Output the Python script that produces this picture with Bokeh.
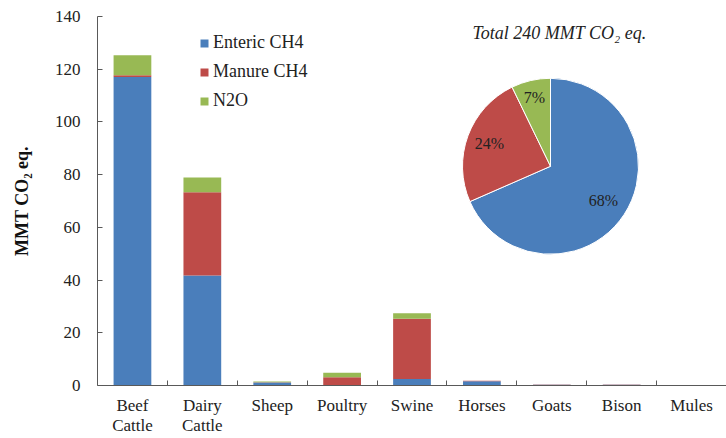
import numpy as np
from bokeh.plotting import figure
from bokeh.models import (Range1d, FixedTicker, Legend, LegendItem, ColumnDataSource)
from bokeh.core.properties import value
from bokeh.embed import file_html
from bokeh.resources import INLINE

# ---------------- data ----------------
categories = ["Beef\nCattle", "Dairy\nCattle", "Sheep", "Poultry", "Swine",
              "Horses", "Goats", "Bison", "Mules"]
enteric_ch4 = [117.0, 41.7, 1.1, 0.0, 2.5, 1.6, 0.3, 0.3, 0.1]
manure_ch4 = [0.7, 31.6, 0.1, 3.1, 22.8, 0.2, 0.05, 0.05, 0.05]
n2o = [7.6, 5.6, 0.3, 1.7, 2.1, 0.0, 0.0, 0.0, 0.0]
series_names = ["Enteric CH4", "Manure CH4", "N2O"]
colors = ["#4A7EBB", "#BE4B48", "#98B954"]
pie_title = "Total 240 MMT CO\u2082 eq."
y_ticks = [0, 20, 40, 60, 80, 100, 120, 140]

# ---------------- layout constants ----------------
FONT = "Liberation Serif"
W, H = 726, 438
BL, BR, BT, BB = 97, 0, 16, 50
frame_w = W - BL - BR
frame_h = H - BT - BB
n = len(categories)
px_x = frame_w / n          # px per x unit
px_y = frame_h / 140.0      # px per y unit

p = figure(width=W, height=H, output_backend="svg", toolbar_location=None,
           x_range=Range1d(0, n), y_range=Range1d(0, 140),
           min_border_left=BL, min_border_right=BR, min_border_top=BT,
           min_border_bottom=BB)
p.outline_line_color = None
p.xgrid.visible = False
p.ygrid.visible = False

xs = np.arange(n) + 0.5
src = ColumnDataSource(dict(x=xs, **{series_names[0]: enteric_ch4,
                                     series_names[1]: manure_ch4,
                                     series_names[2]: n2o}))
rs = p.vbar_stack(series_names, x="x", width=0.54, color=colors,
                  line_color=None, source=src)

# ---------------- axes ----------------
ax = p.xaxis[0]
ax.ticker = FixedTicker(ticks=list(xs), minor_ticks=list(range(1, n + 1)))
ax.major_label_overrides = {float(x): c for x, c in zip(xs, categories)}
ax.major_tick_in = 0
ax.major_tick_out = 0
ax.minor_tick_in = 5
ax.minor_tick_out = 0
ax.axis_line_color = "#595959"
ax.minor_tick_line_color = "#595959"
ax.major_label_text_font = FONT
ax.major_label_text_font_size = "17px"
ax.major_label_text_line_height = 1.1
ax.major_label_text_color = "#222222"
ax.major_label_standoff = 10

ay = p.yaxis[0]
ay.ticker = FixedTicker(ticks=y_ticks)
ay.major_tick_in = 5
ay.major_tick_out = 0
ay.minor_tick_line_color = None
ay.axis_line_color = "#595959"
ay.major_tick_line_color = "#595959"
ay.major_label_text_font = FONT
ay.major_label_text_font_size = "17px"
ay.major_label_text_color = "#222222"
ay.major_label_standoff = 17
ay.axis_label = "MMT CO\u2082 eq."
ay.axis_label_text_font = FONT
ay.axis_label_text_font_size = "18px"
ay.axis_label_text_font_style = "bold"
ay.axis_label_text_color = "#111111"
ay.axis_label_standoff = 20

# ---------------- legend ----------------
legend = Legend(items=[LegendItem(label=nm, renderers=[r]) for nm, r in zip(series_names, rs)],
                location=(102, frame_h - 98), orientation="vertical",
                glyph_width=10, glyph_height=10, label_height=20, spacing=8,
                padding=0, margin=0, label_standoff=4,
                border_line_alpha=0, background_fill_alpha=0,
                label_text_font=FONT, label_text_font_size="18px",
                label_text_color="#222222")
p.add_layout(legend)

# ---------------- pie (inset) ----------------
totals = np.array([sum(enteric_ch4), sum(manure_ch4), sum(n2o)])
frac = totals / totals.sum()
cum = np.concatenate([[0.0], np.cumsum(frac)])
start = np.pi / 2 - cum[:-1] * 2 * np.pi
end = np.pi / 2 - cum[1:] * 2 * np.pi

pie_cx_px, pie_cy_px = 453, frame_h - 151   # centre, px from frame left / bottom
R = 88
cx = pie_cx_px / px_x
cy = pie_cy_px / px_y
p.wedge(x=cx, y=cy, radius=R, radius_units="screen",
        start_angle=start, end_angle=end, direction="clock",
        fill_color=colors, line_color="white", line_width=1)

mid = (start + end) / 2
lr = np.array([0.72, 0.74, 0.81]) * R
lx = cx + lr * np.cos(mid) / px_x
ly = cy + lr * np.sin(mid) / px_y
labels = [f"{round(f * 100):.0f}%" for f in frac]
p.text(x=lx, y=ly, text=labels, text_align="center", text_baseline="middle",
       text_font=value(FONT), text_font_size="16px", text_color="#222222")

p.text(x=[cx + 9 / px_x], y=[cy + 134 / px_y], text=[pie_title],
       text_align="center", text_baseline="middle",
       text_font=value(FONT), text_font_size="18px", text_font_style="italic",
       text_color="#222222")

open("out.html", "w").write(file_html(p, INLINE))
